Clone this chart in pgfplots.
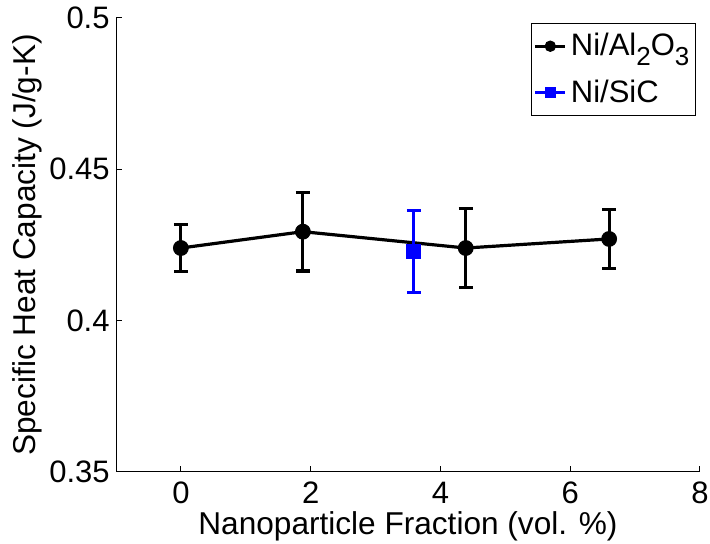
\documentclass[border=0pt]{standalone}
\usepackage{pgfplots}
\pgfplotsset{compat=1.18}
\usepackage{fontspec}
\setmainfont{Liberation Sans}
\definecolor{sicblue}{RGB}{0,0,255}
\newcommand{\sub}[1]{\raisebox{-5pt}{\fontsize{13}{13}\selectfont #1}}
\begin{document}
\begin{tikzpicture}
\begin{axis}[
  scale only axis,
  width=292pt, height=227pt,
  xmin=-1, xmax=8, ymin=0.35, ymax=0.5,
  axis lines=left,
  axis line style={-, line width=0.5pt},
  xtick={0,2,4,6,8},
  ytick={0.35,0.4,0.45,0.5},
  yticklabels={0.35,0.4,0.45,0.5},
  tick align=inside,
  major tick length=3pt,
  tick style={line width=0.5pt, black},
  /pgf/number format/assume math mode=true,
  ticklabel style={font=\fontsize{15.5}{18}\selectfont},
  yticklabel style={inner sep=0pt, xshift=-3pt},
  xticklabel style={inner sep=0pt, yshift=-4.8pt, text depth=0pt, text height=11pt},
  label style={font=\fontsize{15.8}{18}\selectfont},
  xlabel={Nanoparticle Fraction (vol. \%)},
  ylabel={Specific Heat Capacity (J/g-K)},
  xlabel style={at={(axis description cs:0.5,-0.137)}, anchor=base, inner sep=0pt, text height=11.2pt},
  ylabel style={at={(axis description cs:-0.151,0.5)}, anchor=center, inner sep=0pt},
  legend style={at={(axis description cs:0.993,0.989)}, anchor=north east,
    font=\fontsize{15.5}{18}\selectfont, draw=black, line width=0.5pt,
    inner xsep=1pt, inner ysep=3pt, row sep=6.5pt,
    legend cell align=left},
  legend image code/.code={
    \draw[#1, mark repeat=2, mark phase=2, mark size=2.6pt] plot coordinates {(0pt,0pt) (7.5pt,0pt) (15pt,0pt)};
  },
]
\addplot+[black, line width=1.6pt, mark=*, mark size=3.7pt,
  mark options={solid, fill=black, line width=0.5pt},
  error bars/.cd, y dir=both, y explicit,
  error bar style={line width=1.6pt, black},
  error mark options={rotate=90, mark size=3.5pt, line width=1.6pt, black}]
  coordinates {
  (0,0.4240) +- (0,0.0078)
  (1.88,0.4294) +- (0,0.0130)
  (4.39,0.4240) +- (0,0.0130)
  (6.60,0.4270) +- (0,0.0097)
  };
\addlegendentry{Ni/Al\sub{2}O\sub{3}}
\addplot+[sicblue, line width=1.6pt, mark=square*, mark size=3.5pt,
  mark options={solid, fill=sicblue, line width=0.5pt},
  error bars/.cd, y dir=both, y explicit,
  error bar style={line width=1.6pt, sicblue},
  error mark options={rotate=90, mark size=3.5pt, line width=1.6pt, sicblue}]
  coordinates {
  (3.59,0.4229) +- (0,0.0135)
  };
\addlegendentry{Ni/SiC}
\end{axis}
\pgfresetboundingbox
\path[use as bounding box] (-58pt,-36pt) rectangle (297pt,236pt);
\end{tikzpicture}
\end{document}
